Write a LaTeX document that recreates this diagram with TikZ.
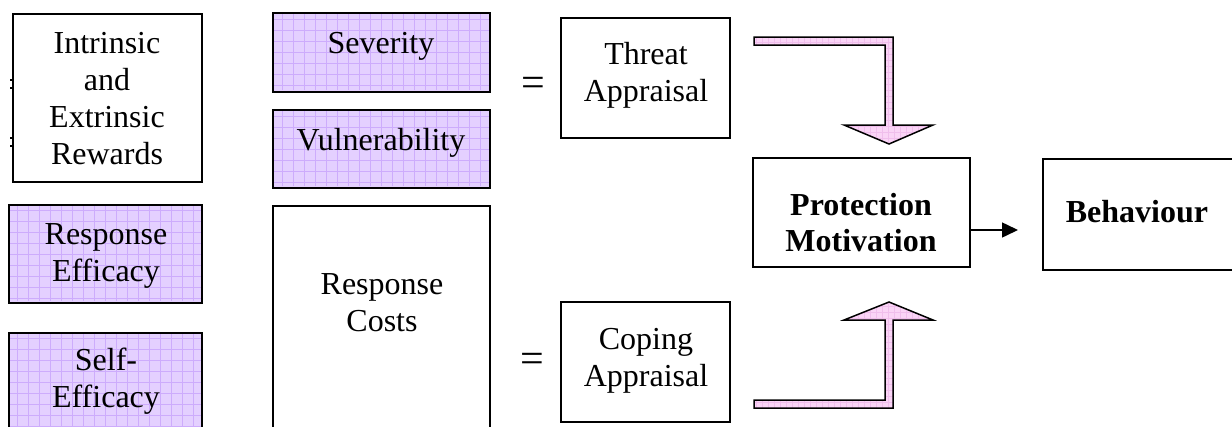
\documentclass[tikz,border=0pt]{standalone}
\usepackage{fontspec}
\setmainfont{Liberation Serif}
\usetikzlibrary{arrows.meta}
\definecolor{lav}{RGB}{228,208,255}
\definecolor{lavgrid}{RGB}{205,172,252}
\definecolor{pinkfill}{RGB}{250,212,246}
\definecolor{pinkgrid}{RGB}{240,190,236}
\tikzset{
  box/.style={draw=black, line width=1.8pt, rectangle},
  gridbox/.style={box, fill=lav, path picture={\draw[lavgrid, line width=0.6pt] ([shift={(-2pt,2pt)}]path picture bounding box.south west) grid[step=11pt] (path picture bounding box.north east);}},
  txt/.style={font=\fontsize{32}{37}\selectfont, align=center, inner sep=0pt},
  btxt/.style={font=\fontsize{32}{36}\selectfont\bfseries, align=center, inner sep=0pt},
  eqs/.style={font=\fontsize{42}{42}\selectfont, inner sep=0pt},
  bigarrow/.style={draw=black, line width=1.5pt, fill=pinkfill, line join=miter},
  dot/.style={fill=black, minimum size=2.5pt, inner sep=0pt, rectangle}
}
\begin{document}
\begin{tikzpicture}[x=1pt, y=-1pt]
\useasboundingbox (0,0) rectangle (1232,426);
\clip (0,0) rectangle (1232,426);
% boxes
\node[box, minimum width=189pt, minimum height=168pt] (ier) at (107.5,98) {};
\node[gridbox, minimum width=193pt, minimum height=98pt] (re) at (105.5,254) {};
\node[gridbox, minimum width=193pt, minimum height=120pt] (se) at (105.5,393) {};
\node[gridbox, minimum width=217pt, minimum height=79pt] (sev) at (381.5,52.5) {};
\node[gridbox, minimum width=217pt, minimum height=78pt] (vul) at (381.5,149) {};
\node[box, minimum width=217pt, minimum height=240pt] (rc) at (381.5,326) {};
\node[box, minimum width=169pt, minimum height=120pt] (ta) at (645.5,78) {};
\node[box, minimum width=169pt, minimum height=120pt] (ca) at (645.5,362) {};
\node[box, minimum width=217pt, minimum height=109pt] (pm) at (861.5,212.5) {};
\node[box, minimum width=200pt, minimum height=111pt, anchor=north west] (beh) at (1042,158) {};
% texts
\node[txt] (ierT) at (107,99) {Intrinsic\\and\\Extrinsic\\Rewards};
\node[txt] (reT) at (106,256) {Response\\Efficacy};
\node[txt] (seT) at (106,381) {Self-\\Efficacy};
\node[txt, anchor=base] (sevT) at (381,53) {Severity};
\node[txt, anchor=base] (vulT) at (381,150) {Vulnerability};
\node[txt] (rcT) at (382,303) {Response\\Costs};
\node[txt] (taT) at (646,75) {Threat\\Appraisal};
\node[txt] (caT) at (646,361) {Coping\\Appraisal};
\node[btxt] (pmT) at (861,223) {Protection\\Motivation};
\node[btxt, anchor=base] (behT) at (1137,222) {Behaviour};
\node[eqs] (eq1) at (533,87) {=};
\node[eqs] (eq2) at (532,363) {=};
% small marks
\node[dot] (d1) at (11,80) {};
\node[dot] (d2) at (11,88) {};
\node[dot] (d3) at (11,138) {};
\node[dot] (d4) at (11,146) {};
% elbow arrows
\draw[bigarrow, path picture={\draw[pinkgrid, line width=0.4pt] (path picture bounding box.south west) grid[step=6pt] (path picture bounding box.north east);}]
  (754,37) -- (893,37) -- (893,125) -- (933,125) -- (889,144) -- (844,125) -- (885,125) -- (885,45) -- (754,45) -- cycle;
\draw[bigarrow, path picture={\draw[pinkgrid, line width=0.4pt] (path picture bounding box.south west) grid[step=6pt] (path picture bounding box.north east);}]
  (754,408) -- (893,408) -- (893,320) -- (933,320) -- (889,302) -- (844,320) -- (885,320) -- (885,400) -- (754,400) -- cycle;
% arrow to behaviour
\coordinate (tipB) at (1018,230);
\draw[line width=1.5pt, -{Triangle[length=16pt, width=15pt]}] (pm.east |- tipB) -- (tipB);
\end{tikzpicture}
\end{document}
